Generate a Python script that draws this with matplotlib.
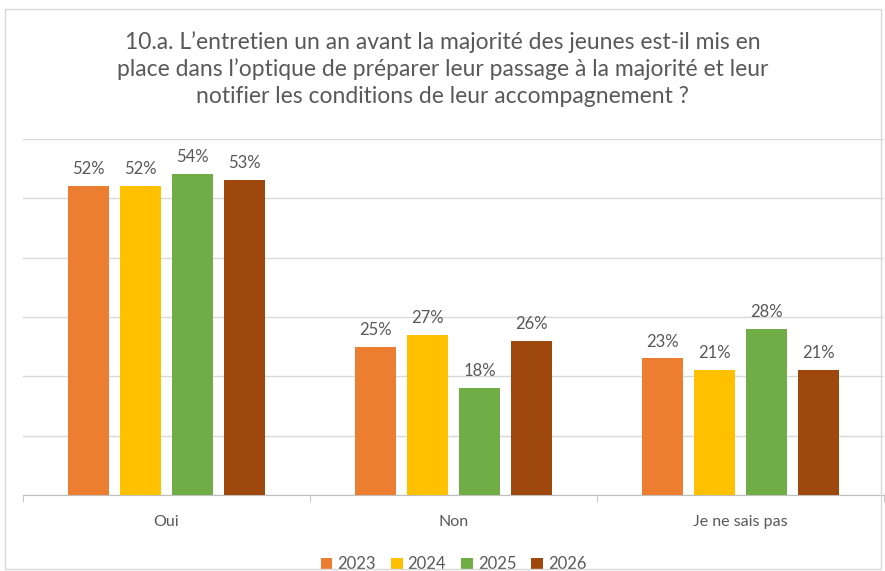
import matplotlib
matplotlib.use("Agg")
import matplotlib.pyplot as plt
import numpy as np
from matplotlib.patches import Rectangle

categories = ["Oui", "Non", "Je ne sais pas"]
years = ["2023", "2024", "2025", "2026"]
values_2023 = [52, 25, 23]
values_2024 = [52, 27, 21]
values_2025 = [54, 18, 28]
values_2026 = [53, 26, 21]
series = [values_2023, values_2024, values_2025, values_2026]
colors = ["#ED7D31", "#FFC000", "#70AD47", "#9E480E"]

title = ("10.a. L\u2019entretien un an avant la majorit\u00e9 des jeunes est-il mis en\n"
         "place dans l\u2019optique de pr\u00e9parer leur passage \u00e0 la majorit\u00e9 et leur\n"
         "notifier les conditions de leur accompagnement ?")

plt.rcParams["font.family"] = ["Lato", "DejaVu Sans"]
txt = "#595959"

fig = plt.figure(figsize=(8.85, 5.71), dpi=100)
fig.patches.append(Rectangle((0.006, 0.004), 0.99, 0.98, transform=fig.transFigure,
                             fill=False, edgecolor="#D9D9D9", lw=1))
ax = fig.add_axes([0.026, 0.133, 0.973, 0.624])

x = np.arange(len(categories))
w = 0.143
step = 0.181
for i, (vals, c, yr) in enumerate(zip(series, colors, years)):
    pos = x + (i - 1.5) * step
    bars = ax.bar(pos, vals, width=w, color=c, label=yr, zorder=3)
    for b, v in zip(bars, vals):
        ax.text(b.get_x() + b.get_width() / 2, v + 1.5, f"{v}%", ha="center",
                va="bottom", fontsize=12, color=txt)

ax.set_xlim(-0.5, 2.5)
ax.set_ylim(0, 60)
ax.set_yticks(range(0, 61, 10))
ax.yaxis.grid(True, color="#D9D9D9", lw=1)
ax.tick_params(axis="y", left=False, labelleft=False)
for s in ["top", "left", "right"]:
    ax.spines[s].set_visible(False)
ax.spines["bottom"].set_color("#BFBFBF")
ax.set_xticks(x)
ax.set_xticklabels(categories, fontsize=11.5, color=txt)
ax.tick_params(axis="x", length=0, pad=14)
ax.set_xticks([-0.5, 0.5, 1.5, 2.5], minor=True)
ax.tick_params(axis="x", which="minor", length=5, color="#BFBFBF")

fig.text(0.5, 0.945, title, ha="center", va="top", fontsize=16.5, color=txt,
         linespacing=1.3)

ax.legend(loc="upper center", bbox_to_anchor=(0.5, -0.13), ncol=4, frameon=False,
          fontsize=12, handlelength=0.7, handleheight=0.7, handletextpad=0.3,
          columnspacing=0.9, labelcolor=txt)

fig.savefig("out.png", dpi=100)
